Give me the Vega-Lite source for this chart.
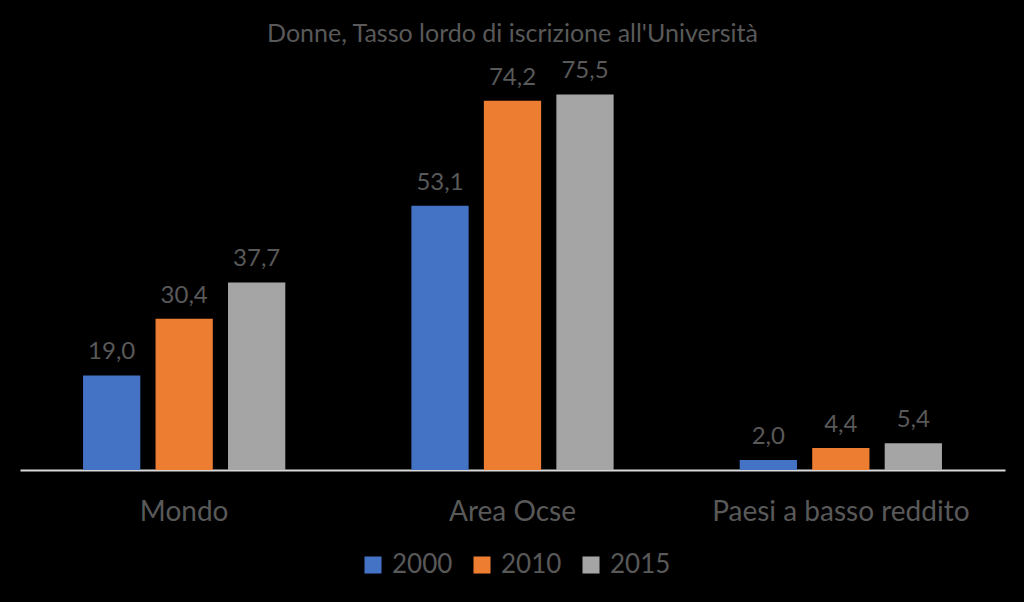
{
  "$schema": "https://vega.github.io/schema/vega-lite/v6.json",
  "width": 985,
  "height": 398,
  "autosize": {"type": "none"},
  "padding": {"left": 20, "top": 72, "right": 19, "bottom": 132},
  "background": "#000000",
  "config": {"view": {"stroke": null}, "font": "Lato",
    "locale": {"number": {"decimal": ",", "thousands": ".", "grouping": [3], "currency": ["", " €"]}}},
  "title": {"text": "Donne, Tasso lordo di iscrizione all'Università", "fontSize": 25, "fontWeight": "normal", "color": "#595959", "anchor": "middle", "offset": 12, "font": "Lato"},
  "data": {"values": [
    {"area": "Mondo", "anno": "2000", "valore": 19.0},
    {"area": "Mondo", "anno": "2010", "valore": 30.4},
    {"area": "Mondo", "anno": "2015", "valore": 37.7},
    {"area": "Area Ocse", "anno": "2000", "valore": 53.1},
    {"area": "Area Ocse", "anno": "2010", "valore": 74.2},
    {"area": "Area Ocse", "anno": "2015", "valore": 75.5},
    {"area": "Paesi a basso reddito", "anno": "2000", "valore": 2.0},
    {"area": "Paesi a basso reddito", "anno": "2010", "valore": 4.4},
    {"area": "Paesi a basso reddito", "anno": "2015", "valore": 5.4}
  ]},
  "encoding": {
    "x": {"field": "area", "type": "nominal", "sort": null,
      "scale": {"paddingInner": 0.384, "paddingOuter": 0.192},
      "axis": {"title": null, "labelAngle": 0, "labelFontSize": 28, "labelLimit": 400, "labelColor": "#595959", "labelPadding": 28, "ticks": false, "domainColor": "#d9d9d9", "domainWidth": 2, "grid": false}},
    "xOffset": {"field": "anno", "type": "nominal", "scale": {"paddingInner": 0.21, "paddingOuter": 0}},
    "y": {"field": "valore", "type": "quantitative", "scale": {"domain": [0, 80], "nice": false}, "axis": null}
  },
  "layer": [
    {"mark": {"type": "bar"},
     "encoding": {"color": {"field": "anno", "type": "nominal",
       "scale": {"domain": ["2000", "2010", "2015"], "range": ["#4472C4", "#ED7D31", "#A5A5A5"]},
       "legend": {"title": null, "orient": "none", "legendX": 340, "legendY": 480, "direction": "horizontal", "symbolType": "square", "symbolSize": 290, "symbolStrokeWidth": 0, "labelFontSize": 26, "labelColor": "#595959", "columnPadding": 16, "labelOffset": 6}}}},
    {"mark": {"type": "text", "dy": -11, "fontSize": 24, "color": "#595959", "baseline": "bottom"},
     "encoding": {"text": {"field": "valore", "type": "quantitative", "format": ".1f"}}}
  ]
}
